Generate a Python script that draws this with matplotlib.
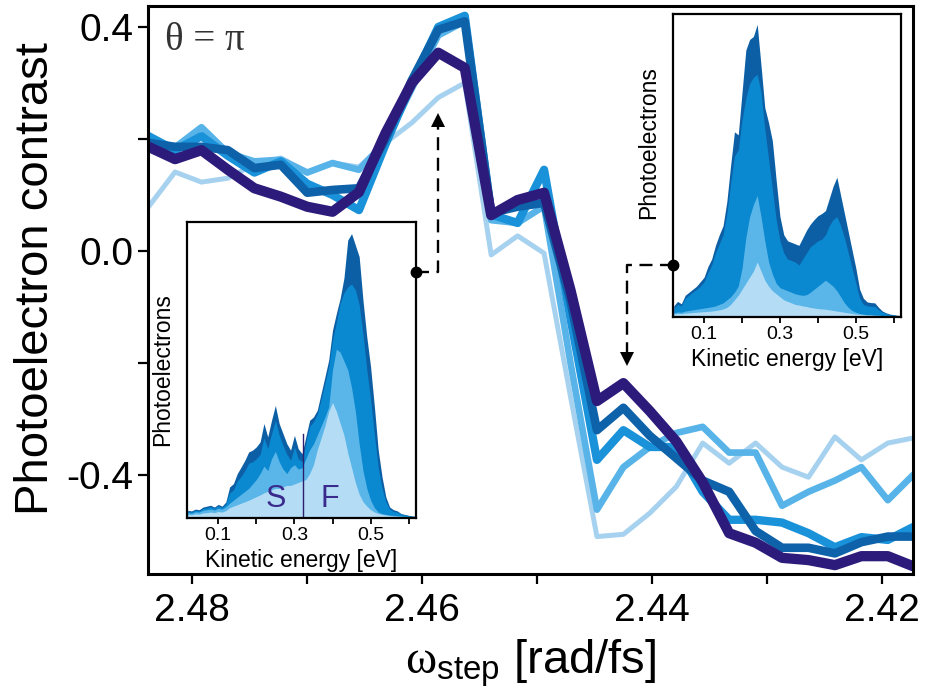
import numpy as np
import matplotlib
matplotlib.use("Agg")
import matplotlib.pyplot as plt
from matplotlib.lines import Line2D

plt.rcParams['font.family'] = ['Liberation Sans', 'DejaVu Sans']
plt.rcParams['axes.unicode_minus'] = False
plt.rcParams['mathtext.fontset'] = 'custom'
plt.rcParams['mathtext.rm'] = 'Liberation Serif'
plt.rcParams['mathtext.sf'] = 'Liberation Sans'
plt.rcParams['mathtext.it'] = 'Liberation Serif:italic'

# ---------------- main data ----------------
omega = [2.4838, 2.4815, 2.4792, 2.4769, 2.4746, 2.4723, 2.4700, 2.4678, 2.4655, 2.4632,
         2.4609, 2.4586, 2.4563, 2.4540, 2.4517, 2.4494, 2.4471, 2.4448, 2.4425, 2.4402,
         2.4379, 2.4356, 2.4333, 2.4310, 2.4287, 2.4264, 2.4241, 2.4218, 2.4195, 2.4173]

contrast_lightest = [0.079, 0.141, 0.123, 0.130, 0.155, 0.166, 0.141, 0.157, 0.150, 0.193,
                     0.229, 0.274, 0.300, -0.007, 0.027, -0.004, -0.260, -0.510, -0.506, -0.468,
                     -0.421, -0.343, -0.379, -0.343, -0.386, -0.404, -0.332, -0.373, -0.343, -0.334]
contrast_light = [0.200, 0.185, 0.221, 0.175, 0.160, 0.163, 0.140, 0.157, 0.145, 0.195,
                  0.290, 0.385, 0.410, 0.055, 0.050, 0.080, -0.200, -0.462, -0.386, -0.350,
                  -0.325, -0.314, -0.360, -0.360, -0.455, -0.430, -0.410, -0.386, -0.445, -0.400]
contrast_medium = [0.205, 0.180, 0.205, 0.170, 0.140, 0.160, 0.120, 0.100, 0.073, 0.190,
                   0.300, 0.400, 0.420, 0.065, 0.050, 0.145, -0.120, -0.373, -0.320, -0.350,
                   -0.350, -0.430, -0.480, -0.480, -0.485, -0.504, -0.529, -0.511, -0.516, -0.493]
contrast_dark = [0.193, 0.186, 0.186, 0.180, 0.148, 0.154, 0.104, 0.109, 0.112, 0.200,
                 0.305, 0.395, 0.410, 0.068, 0.079, 0.086, -0.090, -0.320, -0.280, -0.330,
                 -0.370, -0.410, -0.430, -0.500, -0.530, -0.530, -0.540, -0.520, -0.510, -0.510]
contrast_navy = [0.186, 0.164, 0.180, 0.145, 0.112, 0.097, 0.079, 0.070, 0.105, 0.210,
                 0.300, 0.354, 0.327, 0.064, 0.091, 0.104, -0.070, -0.268, -0.236, -0.286,
                 -0.340, -0.413, -0.504, -0.521, -0.548, -0.552, -0.561, -0.545, -0.545, -0.563]

x_ticks = [2.48, 2.46, 2.44, 2.42]
x_ticklabels = ['2.48', '2.46', '2.44', '2.42']
y_ticks = [0.4, 0.0, -0.4]
y_ticklabels = ['0.4', '0.0', '-0.4']

# arrow targets (main-axes data coords)
arrow1_target = (2.4586, 0.246)
arrow2_target = (2.4422, -0.205)

# ---------------- inset spectra ----------------
energy = np.round(np.arange(0.02, 0.6201, 0.01), 2)

spec1_dark = [0.026, 0.024, 0.030, 0.028, 0.037, 0.040, 0.043, 0.037, 0.046, 0.040,
              0.054, 0.105, 0.116, 0.150, 0.172, 0.195, 0.223, 0.229, 0.240, 0.257,
              0.319, 0.274, 0.330, 0.380, 0.319, 0.285, 0.251, 0.229, 0.279, 0.234,
              0.217, 0.274, 0.330, 0.341, 0.364, 0.420, 0.476, 0.533, 0.634, 0.690,
              0.741, 0.810, 0.938, 0.960, 0.921, 0.882, 0.735, 0.611, 0.510, 0.375,
              0.229, 0.139, 0.071, 0.037, 0.028, 0.024, 0.015, 0.012, 0.009, 0.007, 0.006]
spec1_medium = [0.022, 0.020, 0.026, 0.024, 0.032, 0.035, 0.038, 0.033, 0.041, 0.036,
                0.048, 0.085, 0.095, 0.125, 0.140, 0.160, 0.185, 0.190, 0.200, 0.215,
                0.270, 0.235, 0.285, 0.330, 0.280, 0.245, 0.215, 0.195, 0.240, 0.200,
                0.190, 0.255, 0.310, 0.325, 0.350, 0.400, 0.455, 0.510, 0.600, 0.660,
                0.725, 0.760, 0.780, 0.790, 0.770, 0.720, 0.620, 0.500, 0.400, 0.280,
                0.170, 0.100, 0.055, 0.030, 0.022, 0.020, 0.013, 0.010, 0.008, 0.006, 0.005]
spec1_light = [0.018, 0.016, 0.021, 0.020, 0.026, 0.028, 0.030, 0.027, 0.033, 0.030,
               0.038, 0.050, 0.060, 0.070, 0.080, 0.090, 0.100, 0.115, 0.130, 0.150,
               0.175, 0.160, 0.200, 0.225, 0.190, 0.165, 0.150, 0.170, 0.180, 0.165,
               0.170, 0.200, 0.230, 0.250, 0.280, 0.310, 0.340, 0.375, 0.500, 0.570,
               0.560, 0.530, 0.500, 0.440, 0.360, 0.250, 0.160, 0.100, 0.060, 0.035,
               0.020, 0.015, 0.012, 0.010, 0.009, 0.008, 0.007, 0.006, 0.005, 0.004, 0.004]
spec1_lightest = [0.012, 0.011, 0.014, 0.013, 0.017, 0.018, 0.020, 0.018, 0.022, 0.020,
                  0.025, 0.035, 0.040, 0.045, 0.050, 0.055, 0.060, 0.066, 0.072, 0.078,
                  0.085, 0.090, 0.095, 0.100, 0.100, 0.105, 0.110, 0.110, 0.115, 0.120,
                  0.125, 0.130, 0.150, 0.180, 0.230, 0.270, 0.310, 0.360, 0.390, 0.360,
                  0.320, 0.280, 0.220, 0.170, 0.120, 0.080, 0.055, 0.040, 0.028, 0.020,
                  0.015, 0.012, 0.010, 0.008, 0.007, 0.006, 0.005, 0.005, 0.004, 0.004, 0.003]

spec2_dark = [0.035, 0.050, 0.042, 0.070, 0.080, 0.090, 0.100, 0.115, 0.130, 0.165,
              0.190, 0.235, 0.270, 0.300, 0.380, 0.500, 0.610, 0.600, 0.740, 0.880,
              0.915, 0.925, 0.965, 0.830, 0.690, 0.640, 0.580, 0.450, 0.330, 0.270,
              0.250, 0.245, 0.240, 0.235, 0.260, 0.285, 0.305, 0.320, 0.333, 0.340,
              0.350, 0.390, 0.430, 0.460, 0.400, 0.340, 0.280, 0.220, 0.160, 0.090,
              0.060, 0.048, 0.046, 0.045, 0.030, 0.018, 0.012, 0.008, 0.006, 0.004, 0.003]
spec2_medium = [0.025, 0.040, 0.035, 0.060, 0.070, 0.080, 0.090, 0.100, 0.115, 0.145,
                0.170, 0.210, 0.240, 0.270, 0.340, 0.440, 0.530, 0.550, 0.650, 0.720,
                0.770, 0.790, 0.800, 0.740, 0.620, 0.520, 0.420, 0.320, 0.250, 0.210,
                0.190, 0.185, 0.180, 0.170, 0.190, 0.210, 0.230, 0.240, 0.250, 0.255,
                0.270, 0.300, 0.320, 0.330, 0.300, 0.260, 0.210, 0.160, 0.110, 0.060,
                0.040, 0.035, 0.034, 0.033, 0.022, 0.014, 0.010, 0.006, 0.005, 0.003, 0.002]
spec2_light = [0.012, 0.015, 0.014, 0.018, 0.020, 0.022, 0.024, 0.026, 0.028, 0.030,
               0.032, 0.035, 0.040, 0.045, 0.055, 0.065, 0.080, 0.100, 0.160, 0.260,
               0.330, 0.370, 0.400, 0.330, 0.250, 0.180, 0.140, 0.110, 0.095, 0.090,
               0.085, 0.080, 0.075, 0.072, 0.070, 0.072, 0.080, 0.090, 0.100, 0.110,
               0.120, 0.110, 0.100, 0.085, 0.065, 0.045, 0.030, 0.020, 0.014, 0.010,
               0.008, 0.006, 0.005, 0.004, 0.004, 0.003, 0.003, 0.002, 0.002, 0.002, 0.002]
spec2_lightest = [0.008, 0.010, 0.009, 0.011, 0.012, 0.013, 0.014, 0.015, 0.016, 0.017,
                  0.018, 0.020, 0.022, 0.025, 0.030, 0.040, 0.055, 0.070, 0.090, 0.110,
                  0.130, 0.150, 0.180, 0.150, 0.120, 0.100, 0.085, 0.075, 0.065, 0.055,
                  0.050, 0.045, 0.040, 0.038, 0.035, 0.033, 0.030, 0.028, 0.026, 0.025,
                  0.024, 0.022, 0.020, 0.018, 0.016, 0.014, 0.012, 0.010, 0.008, 0.007,
                  0.006, 0.005, 0.005, 0.004, 0.004, 0.003, 0.003, 0.002, 0.002, 0.002, 0.002]

sf_divider = (0.322, 0.285)
inset_ticks = [0.1, 0.3, 0.5]
inset_minor = [0.2, 0.4, 0.6]

# ---------------- figure ----------------
fig = plt.figure(figsize=(9.32, 6.97), dpi=100)
ax = fig.add_axes([0.1588, 0.1765, 0.8208, 0.8142])

line_styles = [
    (contrast_lightest, '#a6d2f0', 3.6),
    (contrast_light, '#58b4e8', 4.8),
    (contrast_medium, '#1a92da', 6.0),
    (contrast_dark, '#0e62aa', 6.2),
    (contrast_navy, '#2d1b7b', 7.4),
]
for vals, col, lw in line_styles:
    ax.plot(omega, vals, color=col, lw=lw, solid_joinstyle='round',
            solid_capstyle='round')
ax.plot(omega, contrast_lightest, color='#d6ebfa', lw=1.2, solid_joinstyle='round', zorder=1.9)

ax.set_xlim(2.48385, 2.41731)
ax.set_ylim(-0.5768, 0.4366)
ax.set_xticks(x_ticks)
ax.set_xticklabels(x_ticklabels)
ax.set_xticks([2.47, 2.45, 2.43], minor=True)
ax.set_yticks(y_ticks)
ax.set_yticklabels(y_ticklabels)
ax.set_yticks([0.2, -0.2], minor=True)
ax.tick_params(which='both', direction='out', length=7.5, width=1.6, color='black')
ax.tick_params(axis='x', labelsize=28, pad=6)
ax.tick_params(axis='y', labelsize=28, pad=3)
for sp in ax.spines.values():
    sp.set_linewidth(2.2)

ax.set_ylabel('Photoelectron contrast', fontsize=34)
ax.yaxis.set_label_coords(-0.118, 0.52)
ax.set_xlabel(r'$\mathrm{\omega}_{\mathsf{step}}$ [rad/fs]', fontsize=34)
ax.xaxis.set_label_coords(0.5, -0.112)

ax.text(0.022, 0.94, 'θ = π', transform=ax.transAxes, family=['Liberation Serif', 'DejaVu Serif'],
        fontsize=28, color='#333333', va='center', ha='left')

fill_cols = ['#0d5fa5', '#0a88d0', '#5ab6e9', '#b4dcf5']


def make_inset(rect, specs, ylabel_y):
    ia = fig.add_axes(rect)
    for vals, col in zip(specs, fill_cols):
        ia.fill_between(energy, 0, vals, color=col, lw=0)
    ia.set_xlim(0.018, 0.619)
    ia.set_ylim(0, 1.0)
    ia.set_yticks([])
    ia.set_xticks(inset_ticks)
    ia.set_xticklabels(['0.1', '0.3', '0.5'])
    ia.set_xticks(inset_minor, minor=True)
    ia.tick_params(which='both', direction='out', length=4.5, width=1.3)
    ia.tick_params(axis='x', labelsize=14, pad=2)
    for sp in ia.spines.values():
        sp.set_linewidth(1.6)
    ia.set_xlabel('Kinetic energy [eV]', fontsize=16.5)
    ia.xaxis.set_label_coords(0.5, -0.105)
    ia.set_ylabel('Photoelectrons', fontsize=16.5)
    ia.yaxis.set_label_coords(-0.055, ylabel_y)
    return ia


ax1 = make_inset([0.2006, 0.2568, 0.2457, 0.4251],
                 [spec1_dark, spec1_medium, spec1_light, spec1_lightest], 0.5)
ax1.plot([sf_divider[0], sf_divider[0]], [0, sf_divider[1]], color='#2b1f6e', lw=1.0)
ax1.text(0.25, 0.065, 'S', fontsize=22, color='#3a2a8c', ha='center', va='center')
ax1.text(0.394, 0.065, 'F', fontsize=22, color='#3a2a8c', ha='center', va='center')

ax2 = make_inset([0.7221, 0.5459, 0.2446, 0.4344],
                 [spec2_dark, spec2_medium, spec2_light, spec2_lightest], 0.573)

# ---------------- dashed connectors ----------------
inv = fig.transFigure.inverted()


def connector(inset, frac, target, up):
    p_dot = inset.transAxes.transform(frac)
    p_tip = ax.transData.transform(target)
    head = 14.0
    sign = 1 if up else -1
    base = (p_tip[0], p_tip[1] - sign * head)
    pts = inv.transform([p_dot, (p_tip[0], p_dot[1]), base])
    fig.add_artist(Line2D(pts[:, 0], pts[:, 1], transform=fig.transFigure, color='black',
                          lw=1.7, ls=(0, (5.5, 3.2)), zorder=20))
    d = inv.transform(p_dot)
    fig.add_artist(Line2D([d[0]], [d[1]], transform=fig.transFigure, marker='o', ms=7.5,
                          color='black', zorder=21))
    h = inv.transform((p_tip[0], p_tip[1] - sign * head * 0.5))
    fig.add_artist(Line2D([h[0]], [h[1]], transform=fig.transFigure,
                          marker='^' if up else 'v', ms=10, color='black',
                          markeredgewidth=0, zorder=21))


connector(ax1, (1.0, 0.831), arrow1_target, True)
connector(ax2, (0.0, 0.169), arrow2_target, False)

fig.savefig('out.png', dpi=100)
